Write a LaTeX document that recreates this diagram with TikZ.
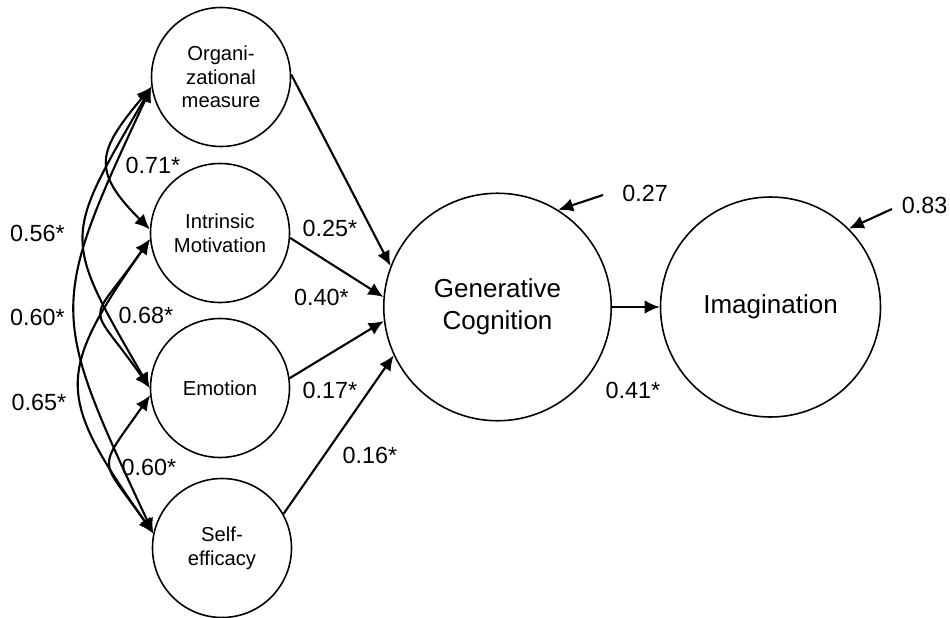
\documentclass[tikz,border=0pt]{standalone}
\usepackage{fontspec}
\setmainfont{Liberation Sans}
\usetikzlibrary{arrows.meta}

\begin{document}
\begin{tikzpicture}[
  small/.style={circle, draw, line width=0.9pt, minimum size=2.78cm, inner sep=0pt,
    align=center, font=\fontsize{11.5}{13.4}\selectfont},
  big/.style={circle, draw, line width=0.9pt, inner sep=0pt,
    align=center, font=\fontsize{14.8}{18}\selectfont},
  coef/.style={font=\fontsize{13.3}{16}\selectfont, inner sep=0pt},
  path/.style={-{Latex[length=3mm,width=2.7mm]}, line width=1.2pt},
  corr/.style={{Latex[length=3mm,width=2.7mm]}-{Latex[length=3mm,width=2.7mm]}, line width=1.2pt},
]
  \useasboundingbox (0,0) rectangle (19,12.34);

  % latent variables
  \node[small] (org) at (4.42,10.80) {Organi-\\zational\\measure};
  \node[small] (intr) at (4.40,7.68) {Intrinsic\\Motivation};
  \node[small] (emo) at (4.40,4.58) {Emotion};
  \node[small] (self) at (4.44,1.38) {Self-\\efficacy};
  \node[big, minimum size=4.55cm] (gen) at (9.95,6.20) {Generative\\Cognition};
  \node[big, minimum size=4.40cm] (imag) at (15.41,6.20) {Imagination};

  % structural paths
  \draw[path] (org.2) -- (gen.159);
  \draw[path] (intr.-4) -- (gen.175);
  \draw[path] (emo.8) -- (gen.187);
  \draw[path] (self.29) -- (gen.205);
  \draw[path] (gen.east) -- (imag.west);

  % residuals
  \coordinate (err1) at (12.06,8.44);
  \coordinate (err2) at (17.84,8.16);
  \draw[path] (err1) -- (gen.58);
  \draw[path] (err2) -- (imag.45);
  \node[coef] (res1) at (12.90,8.48) {0.27};
  \node[coef] (res2) at (18.49,8.24) {0.83};

  % correlations
  \draw[corr] (org.188) to[out=230, in=135, looseness=1.5] (intr.177);
  \draw[corr] (intr.185) to[out=235, in=125, looseness=1.9] (emo.180);
  \draw[corr] (emo.186) to[out=235, in=125, looseness=1.75] (self.168);
  \draw[corr] (org.188) to[out=240, in=120, looseness=1.5] (emo.180);
  \draw[corr] (intr.185) to[out=235, in=125, looseness=1.45] (self.168);
  \draw[corr] (org.188) to[out=245, in=115, looseness=1.4] (self.168);

  % coefficients
  \node[coef] (c1) at (6.60,7.78) {0.25*};
  \node[coef] (c2) at (6.43,6.40) {0.40*};
  \node[coef] (c3) at (6.60,4.54) {0.17*};
  \node[coef] (c4) at (7.40,3.24) {0.16*};
  \node[coef] (c5) at (12.66,4.54) {0.41*};
  \node[coef] (r1) at (3.06,9.04) {0.71*};
  \node[coef] (r2) at (2.92,6.04) {0.68*};
  \node[coef] (r3) at (2.98,3.00) {0.60*};
  \node[coef] (r4) at (0.75,7.68) {0.56*};
  \node[coef] (r5) at (0.75,6.00) {0.60*};
  \node[coef] (r6) at (0.78,4.30) {0.65*};
\end{tikzpicture}
\end{document}
